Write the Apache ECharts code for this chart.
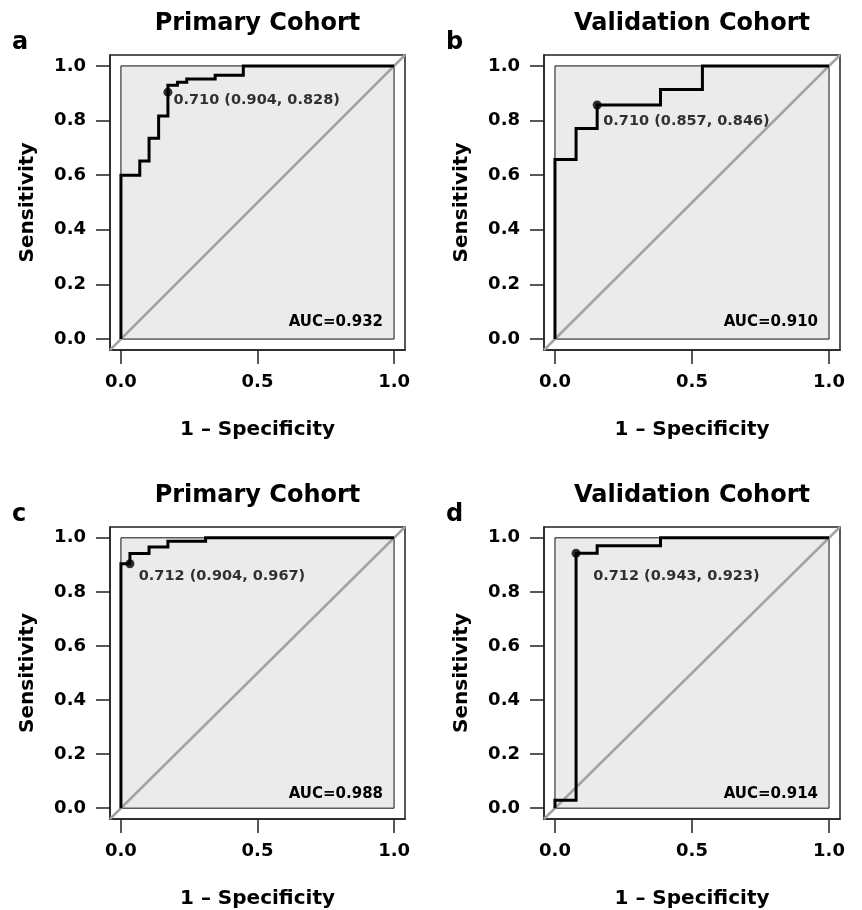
<!DOCTYPE html>
<html>
<head>
<meta charset="utf-8">
<script src="https://cdn.jsdelivr.net/npm/echarts@6/dist/echarts.min.js"></script>
<style>
  html, body { margin: 0; padding: 0; background: #fff; }
  #chart { width: 862px; height: 910px; }
</style>
</head>
<body>
<div id="chart"></div>
<script>
// panel texts
const panelLetters = ['a', 'b', 'c', 'd'];
const panelTitles = ['Primary Cohort', 'Validation Cohort', 'Primary Cohort', 'Validation Cohort'];
const aucLabels = ['AUC=0.932', 'AUC=0.910', 'AUC=0.988', 'AUC=0.914'];
const thresLabels = ['0.710 (0.904, 0.828)', '0.710 (0.857, 0.846)', '0.712 (0.904, 0.967)', '0.712 (0.943, 0.923)'];

// axis
const axisLims = [-0.04, 1.04];
const xTicks = [0, 0.5, 1];
const yTicks = [0, 0.2, 0.4, 0.6, 0.8, 1];

// ROC points (1 - specificity, sensitivity)
const fprA = [0, 0, 0.069, 0.069, 0.103, 0.103, 0.138, 0.138, 0.172, 0.172, 0.207, 0.207, 0.241, 0.241, 0.345, 0.345, 0.448, 0.448, 1];
const tprA = [0, 0.600, 0.600, 0.652, 0.652, 0.735, 0.735, 0.817, 0.817, 0.929, 0.929, 0.940, 0.940, 0.952, 0.952, 0.966, 0.966, 1, 1];
const fprB = [0, 0, 0.077, 0.077, 0.154, 0.154, 0.385, 0.385, 0.538, 0.538, 1];
const tprB = [0, 0.657, 0.657, 0.771, 0.771, 0.857, 0.857, 0.914, 0.914, 1, 1];
const fprC = [0, 0, 0.033, 0.033, 0.103, 0.103, 0.172, 0.172, 0.310, 0.310, 1];
const tprC = [0, 0.904, 0.904, 0.942, 0.942, 0.966, 0.966, 0.987, 0.987, 1, 1];
const fprD = [0, 0, 0.077, 0.077, 0.154, 0.154, 0.385, 0.385, 1];
const tprD = [0, 0.029, 0.029, 0.943, 0.943, 0.971, 0.971, 1, 1];

// best threshold points
const thresFpr = [0.172, 0.154, 0.033, 0.077];
const thresTpr = [0.904, 0.857, 0.904, 0.943];

const rocFpr = [fprA, fprB, fprC, fprD];
const rocTpr = [tprA, tprB, tprC, tprD];

const FONT = 'DejaVu Sans';
const grids = [
  { left: 110, top: 55, width: 295, height: 295 },
  { left: 544, top: 55, width: 296, height: 295 },
  { left: 110, top: 527, width: 295, height: 295 },
  { left: 544, top: 527, width: 296, height: 295 }
];
const labelOffsets = [[10, 12.5], [10.6, 20.7], [13.3, 17], [21.6, 28]];

const drawChart = () => {
  const chart = echarts.init(document.getElementById('chart'), null, { renderer: 'canvas' });

  const xAxis = [], yAxis = [], series = [], graphic = [];

  grids.forEach((g, i) => {
    xAxis.push({
      gridIndex: i,
      type: 'value',
      min: axisLims[0],
      max: axisLims[1],
      name: '1 – Specificity',
      nameLocation: 'middle',
      nameGap: 70,
      nameTextStyle: { fontFamily: FONT, fontWeight: 'bold', fontSize: 20, color: '#000' },
      axisLine: { show: true, onZero: false, lineStyle: { color: '#222', width: 1.5 } },
      axisTick: { show: true, customValues: xTicks, length: 14, lineStyle: { color: '#222', width: 1.5 } },
      axisLabel: {
        customValues: xTicks,
        margin: 23,
        formatter: v => v.toFixed(1),
        fontFamily: FONT, fontWeight: 'bold', fontSize: 18, color: '#000'
      },
      splitLine: { show: false }
    });
    yAxis.push({
      gridIndex: i,
      type: 'value',
      min: axisLims[0],
      max: axisLims[1],
      name: 'Sensitivity',
      nameLocation: 'middle',
      nameGap: 72,
      nameTextStyle: { fontFamily: FONT, fontWeight: 'bold', fontSize: 20, color: '#000' },
      axisLine: { show: true, onZero: false, lineStyle: { color: '#222', width: 1.5 } },
      axisTick: { show: true, customValues: yTicks, length: 14, lineStyle: { color: '#222', width: 1.5 } },
      axisLabel: {
        customValues: yTicks,
        margin: 24,
        formatter: v => v.toFixed(1),
        fontFamily: FONT, fontWeight: 'bold', fontSize: 18, color: '#000'
      },
      splitLine: { show: false }
    });

    // diagonal reference + gray plotting region
    series.push({
      type: 'line',
      xAxisIndex: i, yAxisIndex: i,
      data: [[axisLims[0], axisLims[0]], [axisLims[1], axisLims[1]]],
      symbol: 'none',
      silent: true,
      lineStyle: { color: '#a3a3a3', width: 2.5 },
      z: 2,
      markArea: {
        silent: true,
        itemStyle: { color: '#ebebeb', borderColor: '#111', borderWidth: 1 },
        data: [[{ coord: [0, 0] }, { coord: [1, 1] }]]
      }
    });

    // ROC curve
    series.push({
      type: 'line',
      xAxisIndex: i, yAxisIndex: i,
      data: rocFpr[i].map((x, k) => [x, rocTpr[i][k]]),
      symbol: 'none',
      silent: true,
      lineStyle: { color: '#000', width: 3, join: 'miter' },
      z: 3
    });

    // best threshold point
    series.push({
      type: 'scatter',
      xAxisIndex: i, yAxisIndex: i,
      data: [[thresFpr[i], thresTpr[i]]],
      symbol: 'circle',
      symbolSize: 9,
      itemStyle: { color: '#000' },
      silent: true,
      z: 4,
      label: {
        show: true,
        formatter: thresLabels[i],
        position: labelOffsets[i],
        align: 'left',
        verticalAlign: 'middle',
        fontFamily: FONT, fontWeight: 'bold', fontSize: 14.5, color: '#000'
      }
    });

    // titles, letters, AUC
    graphic.push({
      type: 'text',
      x: g.left + g.width / 2,
      y: g.top - 31,
      style: {
        text: panelTitles[i], fill: '#000',
        font: 'bold 24px "DejaVu Sans"',
        textAlign: 'center', textVerticalAlign: 'middle'
      }
    });
    graphic.push({
      type: 'text',
      x: g.left - 98,
      y: g.top - 12,
      style: {
        text: panelLetters[i], fill: '#000',
        font: 'bold 24px "DejaVu Sans"',
        textAlign: 'left', textVerticalAlign: 'middle'
      }
    });
    graphic.push({
      type: 'text',
      x: g.left + g.width - 22,
      y: g.top + g.height - 28,
      z: 10,
      style: {
        text: aucLabels[i], fill: '#000',
        font: 'bold 15px "DejaVu Sans"',
        textAlign: 'right', textVerticalAlign: 'middle'
      }
    });
  });

  chart.setOption({
    animation: false,
    backgroundColor: '#fff',
    grid: grids.map(g => Object.assign({ show: true, borderColor: '#222', borderWidth: 1.5, backgroundColor: 'transparent' }, g)),
    xAxis: xAxis,
    yAxis: yAxis,
    series: series,
    graphic: graphic
  });

  window.addEventListener('resize', () => chart.resize());
};

drawChart();
</script>
</body>
</html>
